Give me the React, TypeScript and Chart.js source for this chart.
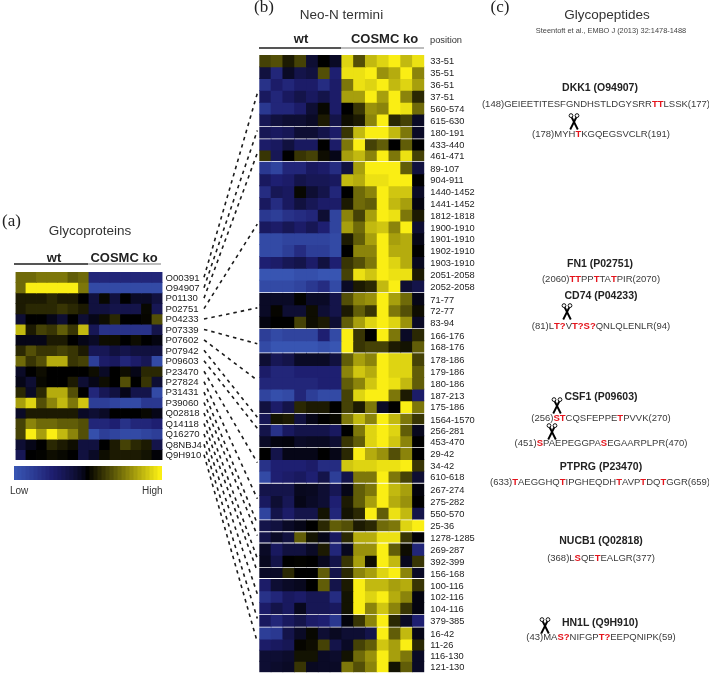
import React, { useEffect, useRef } from "react";
import { Chart, registerables } from "chart.js";

Chart.register(...registerables);

const SANS = '"Liberation Sans", Arial, sans-serif';
const SERIF = '"Liberation Serif", serif';

const columns = ["wt1", "wt2", "wt3", "wt4", "wt5", "wt6", "wt7", "ko1", "ko2", "ko3", "ko4", "ko5", "ko6", "ko7"];

const proteins = ["O00391", "O94907", "P01130", "P02751", "P04233", "P07339", "P07602", "P07942", "P09603", "P23470", "P27824", "P31431", "P39060", "Q02818", "Q14118", "Q16270", "Q8NBJ4", "Q9H910"];

const proteinValues = [
  [4, 4, 4.5, 4.5, 4.5, 3.5, 4, -5, -5, -5, -5, -5, -5, -5],
  [4, 9, 9, 9, 9, 9, 4.5, -8, -8, -8, -8, -8, -8, -8],
  [1, 1, 1, 1.5, 1, 1, 0, -2, 0.3, -2, 0, -1, -1, -2],
  [1, 1.5, 1.5, 1.5, 2, 1.5, 1, -2, -2, -2.5, -2.5, -2.5, 0.3, -3],
  [-1.5, 0, 0, -0.5, -1.5, 0, -1.5, -0.5, 0.5, 1.5, 0, 0, 0.2, 3],
  [7, 1, 2.5, 2, 3.5, 2, 7, -3, -6, -6, -6, -6, -6, -2.5],
  [-0.5, -0.5, -0.5, 1, 1, 0, -0.5, -1, 0.5, 0.5, 0, 0.5, 0, -0.3],
  [1.5, 3, 2, 2, 2.5, 2, 1, -3, -3, -2, -2.5, -2, -2, -2],
  [4, 2, 3, 6.5, 6.5, 2, 2.5, -7, -4, -3.5, -5, -4, -3, -8],
  [-1, 0, 0.5, 0, 0, 0, 0, 0.5, -1, 0, 0.5, -0.5, 1.5, 1.5],
  [-0.5, -1.5, 0.3, 0, 0, 1, -1.5, -0.5, 0.5, 0, 3, 0, 2, -1.5],
  [1.5, -1, 1.5, 6.5, 6.5, 3, 0, -5, -3, -2, -0.5, -2.5, -2.5, -8],
  [6, 8, 3, 5, 7, 4.5, 7.5, -7, -7, -7.5, -8, -8, -6.5, -6.5],
  [-1, 1, 1, 1, 1, 1, -1, -1.5, -1, 0, 0, 0, 0.3, -0.5],
  [2.5, 5, 4, 4, 3.5, 3.5, 3, -5, -5, -4.5, -6, -5, -5, -4.5],
  [2.5, 9, 6, 9, 7, 5, 3, -8.5, -7, -7.5, -8, -8, -7.5, -7],
  [-1.5, -0.5, 0, 1.5, 1, 0.5, -2, -2, 0, 1, 2.5, 1.5, 1, -2.5],
  [-3, 0, 0.1, 0.5, 0.3, 0, -2, -1, 0.5, 1, 1, 1, 0.7, -0.1],
];

const peptideGroups = [
  ["33-51", "35-51", "36-51", "37-51", "560-574", "615-630"],
  ["180-191"],
  ["433-440", "461-471"],
  ["89-107", "904-911", "1440-1452", "1441-1452", "1812-1818", "1900-1910", "1901-1910", "1902-1910", "1903-1910", "2051-2058", "2052-2058"],
  ["71-77", "72-77", "83-94"],
  ["166-176", "168-176"],
  ["178-186", "179-186", "180-186", "187-213", "175-186"],
  ["1564-1570"],
  ["256-281", "453-470"],
  ["29-42", "34-42", "610-618"],
  ["267-274", "275-282", "550-570"],
  ["25-36"],
  ["1278-1285"],
  ["269-287", "392-399"],
  ["156-168"],
  ["100-116", "102-116", "104-116"],
  ["379-385"],
  ["16-42", "11-26", "116-130", "121-130"],
];

// band thickness of a row in each group, in axis units
const groupRowBand = [11.83, 10.5, 10.5, 11.8, 11.47, 11.35, 11.8, 9.5, 10.65, 11.43, 11.67, 10.3, 9.7, 11.5, 9.3, 11.53, 11, 11.08];

const peptideValues = [
  [2.5, 3, 1, 2.5, -1.5, 0, -1, 8, 3, 7, 8, 9, 7, 8.5],
  [-2, -5, -1, -2.5, -2, 3, -4.5, 8.5, 8.5, 9, 5.5, 6.5, 9, 5],
  [-6, -4, -5, -4, -4, -5.5, -4, 4.5, 8.5, 8, 9, 7, 8, 6],
  [-3.5, -5, -3.5, -2.5, -3.5, -2.5, -4, 6, 6, 9, 6, 9, 5, 1.5],
  [-6.5, -5, -5, -4, -1.5, 0.3, -4, 0, 2, 5.5, 5, 9, 8.5, 4],
  [-3, -2, -1.5, -1.5, -1, 1, -2.5, 0.5, 1, 5, 9, 1.5, 2.5, -1],
  [-3, -3.5, -3, -1.5, -1.5, -2.5, -4, 2, 7, 9, 9, 7, 4.5, -1],
  [-4, -3.5, -2, -3.5, -3.5, 0, -4, 4.5, 9, 2.5, 3.5, 0, 3.5, 0],
  [2, -3, 0, 2, 2.5, 0.5, -0.5, 6, 7, 5, 9, 4.5, 8.5, 2.5],
  [-6.5, -7.5, -5, -5, -3.5, -4, -5.5, -2, 6, 9, 9, 9, 3.5, -2],
  [-3.5, -4.5, -4, -2.5, -3, -3, -3.5, 7, 6.5, 8.5, 8.5, 9, 9, 0],
  [-5.5, -3, -3.5, 0.3, -1.5, -2.5, -5, 0, 4, 5, 9, 7.5, 7.5, -1],
  [-3.5, -5.5, -3.5, -2, -3, -4, -4, 1, 4, 3.5, 9, 7, 6, -0.3],
  [-6.5, -7, -6, -5.5, -5, -1.5, -7.5, 5, 2.5, 6, 9, 8.5, 4.5, 1],
  [-3.5, -4, -3, -4, -3, -4.5, -7.5, 6, 4, 7, 7.5, 5, 9, -1.5],
  [-8, -8, -7.5, -7.5, -7.5, -7.5, -8, 1, 3.5, 6, 9, 6, 6.5, -0.5],
  [-8, -8, -7, -5.5, -7, -7, -8, 0, 5, 5, 9, 6.5, 6.5, 0],
  [-4.5, -4, -3, -2.5, -4, -2, -4.5, 2, 3, 4.5, 9, 8, 6.5, -0.7],
  [-9, -9, -9, -8.5, -8.5, -9, -9, 2.5, 8.5, 7.5, 9, 8.5, 8.5, 1],
  [-8, -8, -8, -7.5, -6.5, -5.5, -8, -1, 1, 1.5, 7, 9, -1.5, -2.5],
  [-1, -1, -1, 0.1, -1, -1, -2.5, 3, 5, 5.5, 9, 6, 4, -0.5],
  [-1, 0.2, -1.5, -1.5, 0.5, -1.5, -2.5, 1, 3.5, 2, 9, 4.5, 3, 0.5],
  [-0.3, 0, 0, 2.5, 0.5, 1, -1.5, 3.5, 6, 8, 9, 8, 5.5, -1],
  [-7, -8, -7.5, -7.5, -7.5, -4.5, -8, 9, 2, 0, 9, 4.5, -1, 1.5],
  [-8, -9, -9, -9, -9, -8.5, -9, 9, 2, 2.5, 2.5, 1, 0.7, 3.5],
  [-1.5, -3, -2.5, -1, -1, -1, -2, 3.5, 6, 5, 9, 8, 8, 2.5],
  [-4, -5, -5, -4.5, -4.5, -4.5, -4.5, 5, 7.5, 6.5, 9, 8, 8, 3.5],
  [-5, -5, -5, -5, -5, -4.5, -4.5, 3.5, 5, 7.5, 9, 8.5, 7, 3.5],
  [-7.5, -8.5, -8, -5, -7, -8, -8, 2.5, 8, 9, 9, 4.5, 1, -4],
  [-2, -4, -2.5, 1.5, 1, 1, 0, 2.5, 1, 4.5, -1, 0, 9, 4.5],
  [-3, 0.7, 1, -2, -0.5, 0, 0.3, 4.5, 7, 5, 9, 7, 4.5, 2],
  [-2.5, -6, -3.5, -2.5, -2.5, -2.5, -3.5, 0, 4.5, 8, 9, 8, 3.5, -0.7],
  [-1, -0.3, -0.2, -1, -0.8, -0.8, -1.5, 2, 3.5, 8, 9, 7.5, 5, 0],
  [0, -2.5, -0.5, -0.5, -0.5, 0, -0.5, 1.5, 9, 6.5, 5.5, 3, 5, 0],
  [-6, -4.5, -4.5, -4.5, -4, -5.5, -5.5, 7.5, 8, 8, 8.5, 8.5, 9, 2],
  [-8, -4.5, -4, -3.5, -4.5, -2.5, -7, -2.5, 4.5, 4.5, 9, 4.5, 2.5, -1.5],
  [-2.5, -2.5, -2.5, -0.7, -0.8, -1.5, -3, -0.5, 3.5, 4.5, 9, 7, 6, -0.2],
  [-3.5, -1.5, -3, -0.5, -1, -1.5, -4.5, 1, 3.5, 6, 9, 6.5, 5.5, 0],
  [-7.5, -2.5, -4, -2.5, -2.5, 0.7, -5, 0.7, 1.5, 9, 3.5, 8.5, 7, -2.5],
  [-2.5, -2, -1, -0.5, 0, 1.5, 3.5, 3, 1, 1.5, 4, 4.5, 8, 9],
  [-2.5, -1, -2, 3.5, 0.7, -0.5, -3.5, 1.5, 6.5, 6.5, 8.5, 8.5, 2, -0.1],
  [-1, -3.5, -2, -2, -1, 1, -5, -0.7, 5.5, 5.5, 9, 3.5, 0.5, -5],
  [-0.7, -2.5, 0, 0.1, 0, -0.7, -2.5, 2, 6, 0.5, 9, 7, -0.7, 2],
  [-1, -1, 1.5, 0, 0, 3.5, -2.5, 1.5, 5, 6, 8, 9, 5, -1],
  [-4, -1.5, -1, -0.7, 0, 3.5, -2.5, 1, 9, 7, 7, 6, 6.5, 2],
  [-6, -5, -3.5, -4, -3, -3, -5.5, 0.7, 9, 8, 9, 6.5, 5, -0.3],
  [-4, -2.5, -3.5, -0.7, -3, -3, -3.5, 0.7, 9, 5, 7.5, 5, 2, -0.3],
  [-3.5, -5, -3.5, -2.5, -4, -4.5, -6.5, -0.2, 2, 5, 9, 1.5, -1, -4.5],
  [-7, -6.5, -2.5, -1, 0.3, -1.5, -0.8, -1.5, -1.5, -2.5, 9, 3.5, 7, -0.5],
  [-4, -3.5, -3, 0.2, 0.5, 2.5, -2.5, -1, 2.5, 3.5, 7.5, 6, 9, 1.5],
  [-1.5, -1.5, -1.2, 0.7, 0.7, -1, -1.2, 0.7, 4, 5.5, 9, 6, 4.5, -1],
  [-1.5, -1.2, -1, 2, -0.8, -1, -1, 4.5, 3, 5, 9, 0.7, 3.5, -1],
];

const legendLevels = [-9, -8.5, -8, -7.5, -7, -6.5, -6, -5.5, -5, -4.5, -4, -3.5, -3, -2.5, -2, -1.5, -1, -0.5, 0, 0.5, 1, 1.5, 2, 2.5, 3, 3.5, 4, 4.5, 5, 5.5, 6, 6.5, 7, 7.5, 8, 8.5, 9];

// protein -> peptide row it is joined to
const links: [string, string][] = [
  ["O00391", "37-51"], ["O94907", "180-191"], ["P01130", "461-471"], ["P02751", "1900-1910"],
  ["P04233", "72-77"], ["P07339", "168-176"], ["P07602", "180-186"], ["P07942", "1564-1570"],
  ["P09603", "256-281"], ["P23470", "34-42"], ["P27824", "275-282"], ["P31431", "25-36"],
  ["P39060", "1278-1285"], ["Q02818", "392-399"], ["Q14118", "156-168"], ["Q16270", "102-116"],
  ["Q8NBJ4", "379-385"], ["Q9H910", "11-26"],
];

const mix = (a: number[], b: number[], t: number) => a.map((v, i) => Math.round(v + (b[i] - v) * t));
function heat(v: number) {
  let t = Math.abs(v) / 9;
  let c: number[];
  if (v >= 0) c = mix([0, 0, 0], [250, 238, 20], t);
  else {
    t = Math.pow(t, 0.72);
    if (t <= 0.6) c = mix([0, 0, 0], [30, 30, 112], t / 0.6);
    else c = mix([30, 30, 112], [56, 85, 178], (t - 0.6) / 0.4);
  }
  return `rgb(${c[0]},${c[1]},${c[2]})`;
}

type Row = { label: string; from: number; to: number };

function bands(groups: string[][], gap: number, band: number[]) {
  const out: Row[] = [];
  let p = 0;
  groups.forEach((g, gi) => {
    if (gi) p += gap;
    g.forEach((label) => {
      out.push({ label, from: p, to: p + band[gi] });
      p += band[gi];
    });
  });
  return { rows: out, total: p };
}

function heatChart(canvas: HTMLCanvasElement, rows: Row[], total: number, values: number[][], o: { left: number; top: number; bottom: number; axis: number; size: number; pad: number; nudge: number }) {
  const tickAt = (r: Row) => (r.from + r.to) / 2 + o.nudge;
  return new Chart(canvas, {
    type: "bar",
    data: {
      labels: columns,
      datasets: rows.map((r, i) => ({
        label: r.label,
        data: values[i].map(() => [r.from, r.to]),
        backgroundColor: values[i].map(heat),
        borderWidth: 0,
        inflateAmount: 0.4,
        grouped: false,
        categoryPercentage: 1,
        barPercentage: 1,
      })),
    } as any,
    options: {
      responsive: false,
      animation: false,
      devicePixelRatio: 1,
      layout: { padding: { left: o.left, top: o.top, bottom: o.bottom, right: 0 } },
      plugins: { legend: { display: false }, tooltip: { enabled: false } },
      events: [],
      scales: {
        x: { display: false, offset: true, grid: { display: false } },
        y: {
          position: "right",
          reverse: true,
          min: 0,
          max: total,
          grid: { display: false, drawTicks: false },
          border: { display: false },
          afterBuildTicks: (s: any) => {
            s.ticks = rows.map((r) => ({ value: tickAt(r) }));
          },
          afterFit: (s: any) => {
            s.width = o.axis;
            s.paddingTop = 0;
            s.paddingBottom = 0;
          },
          ticks: {
            autoSkip: false,
            padding: o.pad,
            color: "#222",
            font: { family: SANS, size: o.size },
            callback: (v: any) => rows.find((r) => tickAt(r) === v)?.label ?? "",
          },
        },
      },
    } as any,
  });
}

const A = { x: 0, y: 262, w: 210, h: 200 };
const B = { x: 240, y: 50, w: 245, h: 623 };
const L = { x: 14, y: 466, w: 148, h: 14 };

function Txt({ x, y, size, bold, center, color, font, children }: any) {
  return (
    <div
      style={{
        position: "absolute",
        left: x,
        top: y,
        transform: center ? "translate(-50%,-50%)" : "translate(0,-50%)",
        font: `${bold ? "bold " : ""}${size}px ${font || SANS}`,
        color: color || "#222",
        whiteSpace: "nowrap",
      }}
    >
      {children}
    </div>
  );
}

function Seq({ x, y, parts }: { x: number; y: number; parts: string[] }) {
  return (
    <Txt x={x} y={y} size={9.5} center color="#3a3a3a">
      {parts.map((p, i) =>
        p[0] === "*" ? (
          <span key={i} style={{ color: "#e4141c", fontWeight: "bold" }}>
            {p.slice(1)}
          </span>
        ) : (
          <span key={i}>{p}</span>
        ),
      )}
    </Txt>
  );
}

function Scissors({ x, y }: { x: number; y: number }) {
  return (
    <svg width="12" height="17" viewBox="0 0 12 17" style={{ position: "absolute", left: x - 6, top: y }}>
      <circle cx="3" cy="2.6" r="1.9" fill="none" stroke="#111" strokeWidth="1" />
      <circle cx="9" cy="2.6" r="1.9" fill="none" stroke="#111" strokeWidth="1" />
      <line x1="3.8" y1="4.5" x2="9.8" y2="16.5" stroke="#000" strokeWidth="1.9" />
      <line x1="8.2" y1="4.5" x2="2.2" y2="16.5" stroke="#000" strokeWidth="1.9" />
    </svg>
  );
}

function Rule({ x, y, w, color }: any) {
  return <div style={{ position: "absolute", left: x, top: y, width: w, height: 1.5, background: color }} />;
}

export default function App() {
  const aRef = useRef<HTMLCanvasElement>(null);
  const bRef = useRef<HTMLCanvasElement>(null);
  const lRef = useRef<HTMLCanvasElement>(null);
  const kRef = useRef<HTMLCanvasElement>(null);

  useEffect(() => {
    const pa = bands(proteins.map((p) => [p]), 0, proteins.map(() => 1));
    const pb = bands(peptideGroups, 1.6, groupRowBand);
    const chartA = heatChart(aRef.current!, pa.rows, pa.total, proteinValues, { left: 15.5, top: 10, bottom: 2, axis: 47.5, size: 9.6, pad: 3, nudge: 0.07 });
    const chartB = heatChart(bRef.current!, pb.rows, pb.total, peptideValues, { left: 19.3, top: 5, bottom: 0.7, axis: 60.7, size: 9.3, pad: 6, nudge: 1 });

    const legend = new Chart(lRef.current!, {
      type: "bar",
      data: {
        labels: legendLevels.map(String),
        datasets: [
          {
            data: legendLevels.map(() => [0, 1]),
            backgroundColor: legendLevels.map(heat),
            borderWidth: 0,
            inflateAmount: 0.5,
            categoryPercentage: 1,
            barPercentage: 1,
          },
        ],
      } as any,
      options: {
        responsive: false,
        animation: false,
        devicePixelRatio: 1,
        events: [],
        plugins: { legend: { display: false }, tooltip: { enabled: false } },
        scales: { x: { display: false }, y: { display: false, min: 0, max: 1 } },
      } as any,
    });

    const ya = chartA.scales.y as any;
    const yb = chartB.scales.y as any;
    const rightOfLabels = 204;
    const leftOfHeat = chartB.chartArea.left + B.x - 2;
    const linkChart = new Chart(kRef.current!, {
      type: "scatter",
      data: {
        datasets: links.map(([p, q]) => {
          const ra = pa.rows.find((r) => r.label === p)!;
          const rb = pb.rows.find((r) => r.label === q)!;
          return {
            label: `${p}-${q}`,
            showLine: true,
            borderColor: "#1c1c1c",
            borderWidth: 1.6,
            borderDash: [3.5, 4],
            pointRadius: 0,
            data: [
              { x: rightOfLabels, y: A.y + ya.getPixelForValue((ra.from + ra.to) / 2) },
              { x: leftOfHeat, y: B.y + yb.getPixelForValue(rb.from + 3) },
            ],
          };
        }),
      },
      options: {
        responsive: false,
        animation: false,
        devicePixelRatio: 1,
        events: [],
        layout: { padding: 0 },
        plugins: { legend: { display: false }, tooltip: { enabled: false } },
        scales: {
          x: { display: false, min: 0, max: 709 },
          y: { display: false, min: 0, max: 673, reverse: true },
        },
      } as any,
    });

    return () => {
      chartA.destroy();
      chartB.destroy();
      legend.destroy();
      linkChart.destroy();
    };
  }, []);

  const abs = (r: any): React.CSSProperties => ({ position: "absolute", left: r.x, top: r.y, width: r.w, height: r.h, display: "block" });

  return (
    <div style={{ position: "absolute", left: 0, top: 0, width: 709, height: 673, overflow: "hidden", background: "#fff", filter: "blur(0.4px)" }}>
      <canvas ref={aRef} width={A.w} height={A.h} style={abs(A)} />
      <canvas ref={bRef} width={B.w} height={B.h} style={abs(B)} />
      <canvas ref={lRef} width={L.w} height={L.h} style={abs(L)} />
      <canvas ref={kRef} width={709} height={673} style={{ ...abs({ x: 0, y: 0, w: 709, h: 673 }), pointerEvents: "none" }} />

      <Txt x={2} y={221} size={17} font={SERIF}>(a)</Txt>
      <Txt x={90} y={230} size={13.5} center color="#333">Glycoproteins</Txt>
      <Txt x={54} y={257} size={13} bold center>wt</Txt>
      <Txt x={124} y={257} size={13} bold center>COSMC ko</Txt>
      <Rule x={14} y={263} w={74} color="#555" />
      <Rule x={88} y={263} w={73} color="#bdbdbd" />
      <Txt x={10} y={490} size={10} color="#333">Low</Txt>
      <Txt x={142} y={490} size={10} color="#333">High</Txt>

      <Txt x={254} y={7} size={17} font={SERIF}>(b)</Txt>
      <Txt x={341.5} y={14} size={13.5} center color="#333">Neo-N termini</Txt>
      <Txt x={301} y={38} size={13} bold center>wt</Txt>
      <Txt x={384.5} y={38} size={13} bold center>COSMC ko</Txt>
      <Txt x={430} y={40} size={9.3} color="#333">position</Txt>
      <Rule x={259} y={47} w={82} color="#555" />
      <Rule x={341} y={47} w={83} color="#bdbdbd" />

      <Txt x={490.5} y={7} size={17} font={SERIF}>(c)</Txt>
      <Txt x={607} y={14} size={13.5} center color="#333">Glycopeptides</Txt>
      <Txt x={611} y={30} size={7.4} center color="#444">Steentoft et al., EMBO J (2013) 32:1478-1488</Txt>

      <Txt x={600} y={87} size={10.5} bold center>DKK1 (O94907)</Txt>
      <Seq x={596} y={103} parts={["(148)GEIEETITESFGNDHSTLDGYSRR", "*TT", "LSSK(177)"]} />
      <Scissors x={574} y={113} />
      <Seq x={601} y={133} parts={["(178)MYH", "*T", "KGQEGSVCLR(191)"]} />

      <Txt x={600} y={263} size={10.5} bold center>FN1 (P02751)</Txt>
      <Seq x={601} y={278} parts={["(2060)", "*TT", "PP", "*T", "TA", "*T", "PIR(2070)"]} />
      <Txt x={601} y={295} size={10.5} bold center>CD74 (P04233)</Txt>
      <Scissors x={567} y={303} />
      <Seq x={601} y={325} parts={["(81)L", "*T?", "V", "*T?S?", "QNLQLENLR(94)"]} />

      <Txt x={601} y={396} size={10.5} bold center>CSF1 (P09603)</Txt>
      <Scissors x={557} y={397} />
      <Seq x={601} y={417} parts={["(256)", "*ST", "CQSFEPPE", "*T", "PVVK(270)"]} />
      <Scissors x={552} y={423} />
      <Seq x={601} y={442} parts={["(451)", "*S", "PAEPEGGPA", "*S", "EGAARPLPR(470)"]} />

      <Txt x={601} y={466} size={10.5} bold center>PTPRG (P23470)</Txt>
      <Seq x={600} y={481} parts={["(633)", "*T", "AEGGHQ", "*T", "IPGHEQDH", "*T", "AVP", "*T", "DQ", "*T", "GGR(659)"]} />

      <Txt x={601} y={540} size={10.5} bold center>NUCB1 (Q02818)</Txt>
      <Seq x={601} y={557} parts={["(368)L", "*S", "QE", "*T", "EALGR(377)"]} />

      <Txt x={600} y={622} size={10.5} bold center>HN1L (Q9H910)</Txt>
      <Scissors x={545} y={617} />
      <Seq x={601} y={636} parts={["(43)MA", "*S?", "NIFGP", "*T?", "EEPQNIPK(59)"]} />
    </div>
  );
}
